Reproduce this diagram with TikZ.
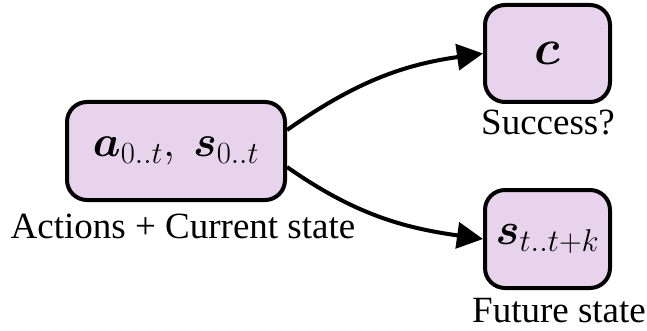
\RequirePackage{fix-cm}
\documentclass[tikz,border=0pt]{standalone}
\usepackage{fontspec}
\usepackage{amsmath,bm}
\setmainfont{Liberation Serif}
\usetikzlibrary{arrows.meta}
\definecolor{boxfill}{RGB}{231,212,236}
\tikzset{
  box/.style={draw=black, line width=4pt, fill=boxfill, rounded corners=20pt, inner sep=0pt},
  lbl/.style={anchor=base, inner sep=0pt, font=\fontsize{37}{42}\selectfont},
  conn/.style={line width=4pt, -{Triangle[length=26pt,width=26pt]}}
}
\begin{document}
\begin{tikzpicture}[x=1pt,y=1pt]
\useasboundingbox (0,0) rectangle (647,-331);
\node[box, minimum width=218pt, minimum height=98pt] (L) at (176,-151) {\fontsize{44}{50}\selectfont$\bm{a}_{0..t},\ \bm{s}_{0..t}$};
\node[box, minimum width=125pt, minimum height=97pt] (T) at (547.5,-53.5) {\fontsize{50}{56}\selectfont$\bm{c}$};
\node[box, minimum width=125pt, minimum height=98pt] (B) at (547.5,-239) {\fontsize{45}{50}\selectfont$\bm{s}_{t..t+k}$};
\node[lbl] (Ll) at (183,-238) {Actions + Current state};
\node[lbl] (Tl) at (548,-135) {Success?};
\node[lbl] (Bl) at (559,-322) {Future state};
\draw[conn] ([yshift=21pt]L.east) to[out=35,in=188] (T.west);
\draw[conn] ([yshift=-16pt]L.east) to[out=-35,in=172] (B.west);
\end{tikzpicture}
\end{document}
